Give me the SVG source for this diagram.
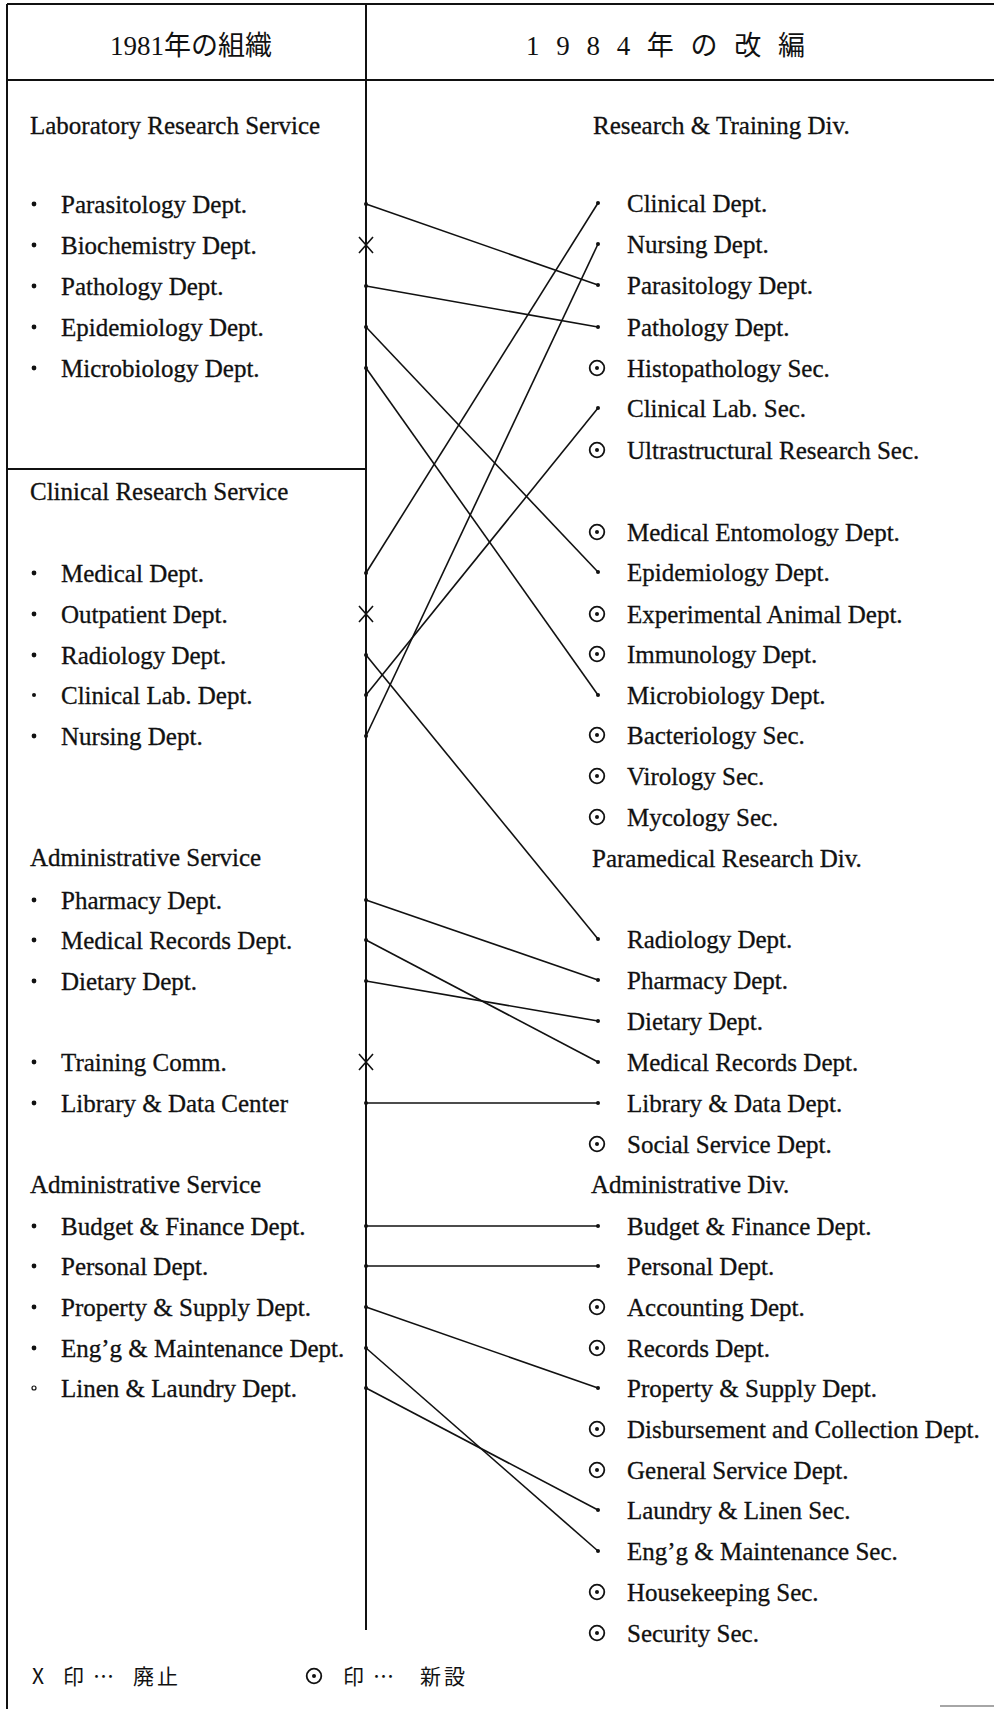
<svg xmlns="http://www.w3.org/2000/svg" width="994" height="1709" viewBox="0 0 994 1709">
<style>
.t{font-family:"Liberation Serif","Noto Sans CJK JP",serif;font-size:25px;fill:#111;stroke:#111;stroke-width:0.3}
.h{font-family:"Liberation Serif","Noto Sans CJK JP",serif;font-size:25px;fill:#111;stroke:#111;stroke-width:0.3}
.jp{font-family:"Liberation Serif","Noto Sans CJK JP",serif;font-size:27px;fill:#111}
.lg{font-family:"Noto Sans CJK JP",sans-serif;font-size:21px;fill:#111}
.frame{stroke:#111;stroke-width:2;fill:none}
.c{stroke:#111;stroke-width:1.6;fill:none}
.d{fill:#111}
.b{fill:#111}
.x{stroke:#111;stroke-width:1.6;fill:none}
.new{stroke:#111;stroke-width:1.8;fill:#fff}
</style>
<defs>
<g id="newmark"><circle cx="0" cy="0" r="7.3" class="new"/><circle cx="0" cy="0" r="2" class="d"/></g>
<g id="xmark"><path d="M-7,-8 L7,8 M7,-8 L-7,8" class="x"/></g>
</defs>
<rect x="0" y="0" width="994" height="1709" fill="#fff"/>
<g id="frame">
<line x1="7" y1="4" x2="994" y2="4" class="frame"/>
<line x1="7" y1="4" x2="7" y2="1709" class="frame"/>
<line x1="7" y1="80" x2="994" y2="80" class="frame" stroke-width="1.6"/>
<line x1="7" y1="469" x2="366" y2="469" class="frame" stroke-width="1.6"/>
<line x1="366" y1="4" x2="366" y2="1630" class="frame"/>
<line x1="940" y1="1706" x2="994" y2="1706" stroke="#888" stroke-width="1.5"/>
</g>
<g id="headers">
<text x="110" y="55" class="jp">1981年の組織</text>
<text x="526" y="55" class="jp" textLength="279" lengthAdjust="spacing">1 9 8 4 年 の 改 編</text>
</g>
<g id="connectors">
<line x1="366" y1="204" x2="598" y2="285" class="c"/>
<line x1="366" y1="286" x2="598" y2="327" class="c"/>
<line x1="366" y1="327" x2="598" y2="572" class="c"/>
<line x1="366" y1="368" x2="598" y2="695" class="c"/>
<line x1="366" y1="573" x2="598" y2="203" class="c"/>
<line x1="366" y1="736" x2="598" y2="244" class="c"/>
<line x1="366" y1="695" x2="598" y2="408" class="c"/>
<line x1="366" y1="655" x2="598" y2="939" class="c"/>
<line x1="366" y1="900" x2="598" y2="980" class="c"/>
<line x1="366" y1="940" x2="598" y2="1062" class="c"/>
<line x1="366" y1="981" x2="598" y2="1021" class="c"/>
<line x1="366" y1="1103" x2="598" y2="1103" class="c"/>
<line x1="366" y1="1226" x2="598" y2="1226" class="c"/>
<line x1="366" y1="1266" x2="598" y2="1266" class="c"/>
<line x1="366" y1="1307" x2="598" y2="1388" class="c"/>
<line x1="366" y1="1348" x2="598" y2="1551" class="c"/>
<line x1="366" y1="1388" x2="598" y2="1510" class="c"/>
<g class="d">
<circle cx="366" cy="204" r="2"/><circle cx="598" cy="285" r="2"/>
<circle cx="366" cy="286" r="2"/><circle cx="598" cy="327" r="2"/>
<circle cx="366" cy="327" r="2"/><circle cx="598" cy="572" r="2"/>
<circle cx="366" cy="368" r="2"/><circle cx="598" cy="695" r="2"/>
<circle cx="366" cy="573" r="2"/><circle cx="598" cy="203" r="2"/>
<circle cx="366" cy="736" r="2"/><circle cx="598" cy="244" r="2"/>
<circle cx="366" cy="695" r="2"/><circle cx="598" cy="408" r="2"/>
<circle cx="366" cy="655" r="2"/><circle cx="598" cy="939" r="2"/>
<circle cx="366" cy="900" r="2"/><circle cx="598" cy="980" r="2"/>
<circle cx="366" cy="940" r="2"/><circle cx="598" cy="1062" r="2"/>
<circle cx="366" cy="981" r="2"/><circle cx="598" cy="1021" r="2"/>
<circle cx="366" cy="1103" r="2"/><circle cx="598" cy="1103" r="2"/>
<circle cx="366" cy="1226" r="2"/><circle cx="598" cy="1226" r="2"/>
<circle cx="366" cy="1266" r="2"/><circle cx="598" cy="1266" r="2"/>
<circle cx="366" cy="1307" r="2"/><circle cx="598" cy="1388" r="2"/>
<circle cx="366" cy="1348" r="2"/><circle cx="598" cy="1551" r="2"/>
<circle cx="366" cy="1388" r="2"/><circle cx="598" cy="1510" r="2"/>
</g>
<use href="#xmark" x="366" y="245"/>
<use href="#xmark" x="366" y="614"/>
<use href="#xmark" x="366" y="1062"/>
</g>
<g id="left-lab">
<text x="30" y="134" class="h">Laboratory Research Service</text>
<g id="l-parasitology"><circle cx="34" cy="204" r="2.4" class="b"/><text x="61" y="213" class="t">Parasitology Dept.</text></g>
<g id="l-biochemistry"><circle cx="34" cy="245" r="2.4" class="b"/><text x="61" y="254" class="t">Biochemistry Dept.</text></g>
<g id="l-pathology"><circle cx="34" cy="286" r="2.4" class="b"/><text x="61" y="295" class="t">Pathology Dept.</text></g>
<g id="l-epidemiology"><circle cx="34" cy="327" r="2.4" class="b"/><text x="61" y="336" class="t">Epidemiology Dept.</text></g>
<g id="l-microbiology"><circle cx="34" cy="368" r="2.4" class="b"/><text x="61" y="377" class="t">Microbiology Dept.</text></g>
</g>
<g id="left-clinical">
<text x="30" y="500" class="h">Clinical Research Service</text>
<g id="l-medical"><circle cx="34" cy="573" r="2.4" class="b"/><text x="61" y="582" class="t">Medical Dept.</text></g>
<g id="l-outpatient"><circle cx="34" cy="614" r="2.4" class="b"/><text x="61" y="623" class="t">Outpatient Dept.</text></g>
<g id="l-radiology"><circle cx="34" cy="655" r="2.4" class="b"/><text x="61" y="664" class="t">Radiology Dept.</text></g>
<g id="l-clinlab"><circle cx="34" cy="695" r="2" class="b"/><text x="61" y="704" class="t">Clinical Lab. Dept.</text></g>
<g id="l-nursing"><circle cx="34" cy="736" r="2.4" class="b"/><text x="61" y="745" class="t">Nursing Dept.</text></g>
</g>
<g id="left-admin1">
<text x="30" y="866" class="h">Administrative Service</text>
<g id="l-pharmacy"><circle cx="34" cy="900" r="2.4" class="b"/><text x="61" y="909" class="t">Pharmacy Dept.</text></g>
<g id="l-medrec"><circle cx="34" cy="940" r="2.4" class="b"/><text x="61" y="949" class="t">Medical Records Dept.</text></g>
<g id="l-dietary"><circle cx="34" cy="981" r="2.4" class="b"/><text x="61" y="990" class="t">Dietary Dept.</text></g>
<g id="l-training"><circle cx="34" cy="1062" r="2.4" class="b"/><text x="61" y="1071" class="t">Training Comm.</text></g>
<g id="l-library"><circle cx="34" cy="1103" r="2.4" class="b"/><text x="61" y="1112" class="t">Library &amp; Data Center</text></g>
</g>
<g id="left-admin2">
<text x="30" y="1193" class="h">Administrative Service</text>
<g id="l-budget"><circle cx="34" cy="1226" r="2.4" class="b"/><text x="61" y="1235" class="t">Budget &amp; Finance Dept.</text></g>
<g id="l-personal"><circle cx="34" cy="1266" r="2.4" class="b"/><text x="61" y="1275" class="t">Personal Dept.</text></g>
<g id="l-property"><circle cx="34" cy="1307" r="2.4" class="b"/><text x="61" y="1316" class="t">Property &amp; Supply Dept.</text></g>
<g id="l-engg"><circle cx="34" cy="1348" r="2.4" class="b"/><text x="61" y="1357" class="t">Eng’g &amp; Maintenance Dept.</text></g>
<g id="l-linen"><circle cx="34" cy="1388" r="2" fill="#fff" stroke="#111" stroke-width="1.2"/><text x="61" y="1397" class="t">Linen &amp; Laundry Dept.</text></g>
</g>
<g id="right-research">
<text x="593" y="134" class="h">Research &amp; Training Div.</text>
<g id="r-clinical"><text x="627" y="212" class="t">Clinical Dept.</text></g>
<g id="r-nursing"><text x="627" y="253" class="t">Nursing Dept.</text></g>
<g id="r-parasitology"><text x="627" y="294" class="t">Parasitology Dept.</text></g>
<g id="r-pathology"><text x="627" y="336" class="t">Pathology Dept.</text></g>
<g id="r-histopathology"><use href="#newmark" x="597" y="368"/><text x="627" y="377" class="t">Histopathology Sec.</text></g>
<g id="r-clinlab"><text x="627" y="417" class="t">Clinical Lab. Sec.</text></g>
<g id="r-ultra"><use href="#newmark" x="597" y="450"/><text x="627" y="459" class="t">Ultrastructural Research Sec.</text></g>
<g id="r-entomology"><use href="#newmark" x="597" y="532"/><text x="627" y="541" class="t">Medical Entomology Dept.</text></g>
<g id="r-epidemiology"><text x="627" y="581" class="t">Epidemiology Dept.</text></g>
<g id="r-expanimal"><use href="#newmark" x="597" y="614"/><text x="627" y="623" class="t">Experimental Animal Dept.</text></g>
<g id="r-immunology"><use href="#newmark" x="597" y="654"/><text x="627" y="663" class="t">Immunology Dept.</text></g>
<g id="r-microbiology"><text x="627" y="704" class="t">Microbiology Dept.</text></g>
<g id="r-bacteriology"><use href="#newmark" x="597" y="735"/><text x="627" y="744" class="t">Bacteriology Sec.</text></g>
<g id="r-virology"><use href="#newmark" x="597" y="776"/><text x="627" y="785" class="t">Virology Sec.</text></g>
<g id="r-mycology"><use href="#newmark" x="597" y="817"/><text x="627" y="826" class="t">Mycology Sec.</text></g>
</g>
<g id="right-paramedical">
<text x="592" y="867" class="h">Paramedical Research Div.</text>
<g id="r-radiology"><text x="627" y="948" class="t">Radiology Dept.</text></g>
<g id="r-pharmacy"><text x="627" y="989" class="t">Pharmacy Dept.</text></g>
<g id="r-dietary"><text x="627" y="1030" class="t">Dietary Dept.</text></g>
<g id="r-medrec"><text x="627" y="1071" class="t">Medical Records Dept.</text></g>
<g id="r-library"><text x="627" y="1112" class="t">Library &amp; Data Dept.</text></g>
<g id="r-social"><use href="#newmark" x="597" y="1144"/><text x="627" y="1153" class="t">Social Service Dept.</text></g>
</g>
<g id="right-admin">
<text x="591" y="1193" class="h">Administrative Div.</text>
<g id="r-budget"><text x="627" y="1235" class="t">Budget &amp; Finance Dept.</text></g>
<g id="r-personal"><text x="627" y="1275" class="t">Personal Dept.</text></g>
<g id="r-accounting"><use href="#newmark" x="597" y="1307"/><text x="627" y="1316" class="t">Accounting Dept.</text></g>
<g id="r-records"><use href="#newmark" x="597" y="1348"/><text x="627" y="1357" class="t">Records Dept.</text></g>
<g id="r-property"><text x="627" y="1397" class="t">Property &amp; Supply Dept.</text></g>
<g id="r-disbursement"><use href="#newmark" x="597" y="1429"/><text x="627" y="1438" class="t">Disbursement and Collection Dept.</text></g>
<g id="r-general"><use href="#newmark" x="597" y="1470"/><text x="627" y="1479" class="t">General Service Dept.</text></g>
<g id="r-laundry"><text x="627" y="1519" class="t">Laundry &amp; Linen Sec.</text></g>
<g id="r-engg"><text x="627" y="1560" class="t">Eng’g &amp; Maintenance Sec.</text></g>
<g id="r-housekeeping"><use href="#newmark" x="597" y="1592"/><text x="627" y="1601" class="t">Housekeeping Sec.</text></g>
<g id="r-security"><use href="#newmark" x="597" y="1633"/><text x="627" y="1642" class="t">Security Sec.</text></g>
</g>
<g id="legend">
<text y="1684" class="lg"><tspan x="32">X</tspan><tspan x="63">印</tspan><tspan x="93">…</tspan><tspan x="133" letter-spacing="3">廃止</tspan></text>
<use href="#newmark" x="314" y="1676"/>
<text y="1684" class="lg"><tspan x="343">印</tspan><tspan x="373">…</tspan><tspan x="420" letter-spacing="3">新設</tspan></text>
</g>
</svg>
